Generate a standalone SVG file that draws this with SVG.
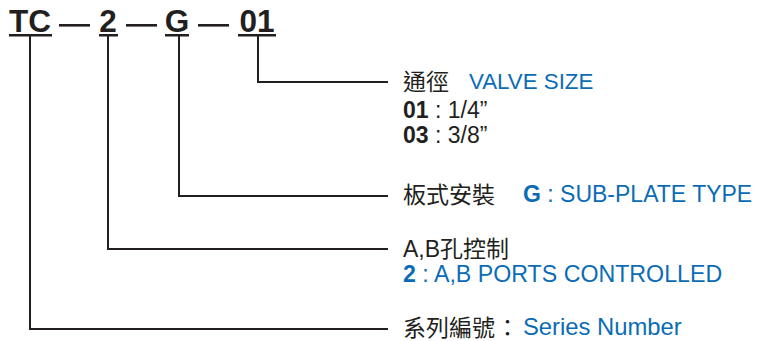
<svg xmlns="http://www.w3.org/2000/svg" width="757" height="341" viewBox="0 0 757 341">
<style>
.code{font-family:"Liberation Sans",Arial,sans-serif;font-weight:bold;font-size:31.5px;fill:#231f20;text-anchor:middle}
.ul{fill:#231f20}
.dash{fill:#231f20}
.t{font-family:"Liberation Sans","Noto Sans CJK TC",sans-serif;font-size:23px;fill:#231f20}
.b{fill:#0b6cb5}
.bold{font-weight:bold}
.conn{fill:none;stroke:#231f20;stroke-width:2}
</style>
<rect width="757" height="341" fill="#fff"/>
<g id="code-tc">
<text class="code" x="30" y="32">TC</text>
<rect class="ul" x="9" y="34" width="43" height="2.5"/>
</g>
<rect class="dash" x="59" y="24" width="31" height="2.6"/>
<g id="code-2">
<text class="code" x="108" y="32">2</text>
<rect class="ul" x="99" y="34" width="19" height="2.5"/>
</g>
<rect class="dash" x="126" y="24" width="31" height="2.6"/>
<g id="code-g">
<text class="code" x="177" y="32">G</text>
<rect class="ul" x="165" y="34" width="24" height="2.5"/>
</g>
<rect class="dash" x="198" y="24" width="31" height="2.6"/>
<g id="code-01">
<text class="code" x="257" y="32">01</text>
<rect class="ul" x="238" y="34" width="38" height="2.5"/>
</g>
<g id="connectors">
<path class="conn" d="M258,36 V82 H388"/>
<path class="conn" d="M179,36 V196 H388"/>
<path class="conn" d="M108,36 V249 H388"/>
<path class="conn" d="M30,36 V329 H388"/>
</g>
<g id="label-size">
<text class="t" x="403" y="90">通徑</text>
<text class="t b" x="469" y="89" style="font-size:22.3px">VALVE SIZE</text>
<text class="t" x="403" y="118"><tspan class="bold">01</tspan> : 1/4”</text>
<text class="t" x="403" y="143"><tspan class="bold">03</tspan> : 3/8”</text>
</g>
<g id="label-mount">
<text class="t" x="403" y="203">板式安裝</text>
<text class="t b" x="523" y="202"><tspan class="bold">G</tspan> : SUB-PLATE TYPE</text>
</g>
<g id="label-ports">
<text class="t" x="403" y="257">A,B孔控制</text>
<text class="t b" x="403" y="281.5" style="font-size:23.2px"><tspan class="bold">2</tspan> : A,B PORTS CONTROLLED</text>
</g>
<g id="label-series">
<text class="t" x="403" y="336">系列編號</text>
<text class="t" x="496" y="336">：</text>
<text class="t b" x="523" y="335" style="font-size:23.8px">Series Number</text>
</g>
</svg>
